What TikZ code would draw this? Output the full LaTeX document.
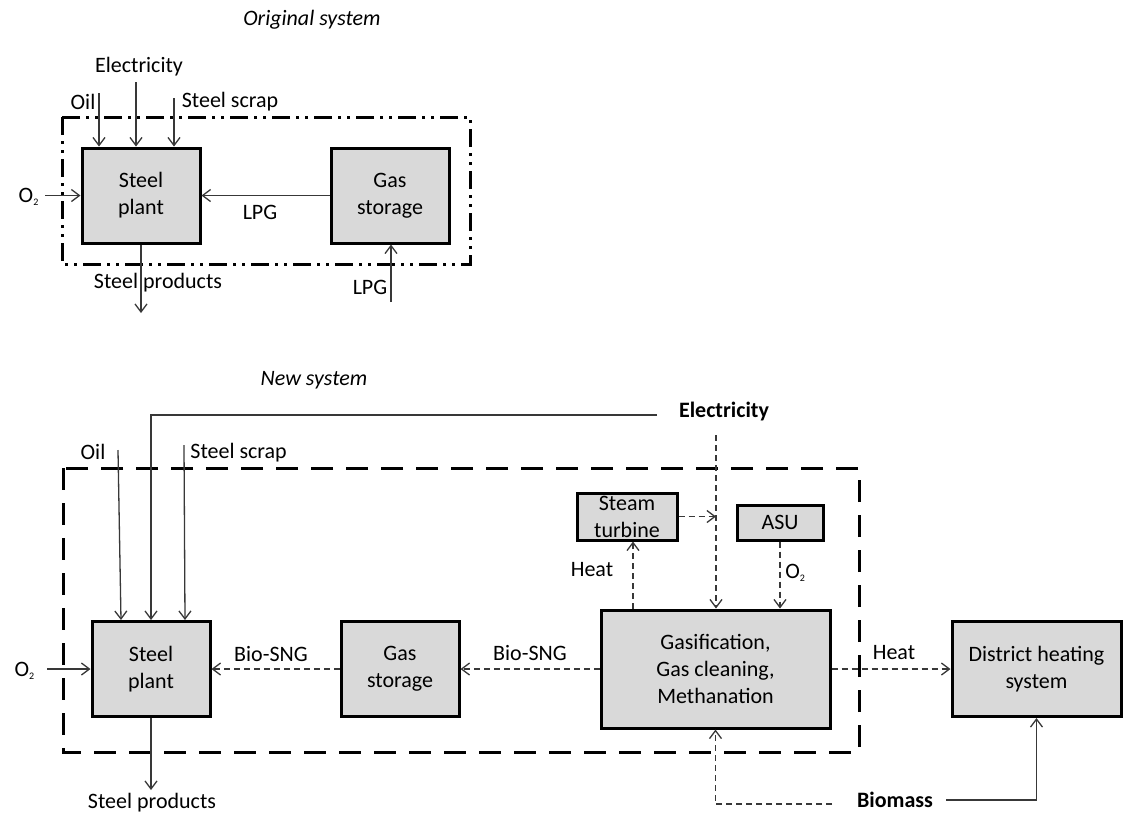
\documentclass[tikz,border=0pt]{standalone}
\usepackage{fontspec}
\setmainfont{Carlito}
\usepackage{xcolor}
\definecolor{box_gray}{HTML}{D9D9D9}
\definecolor{line_gray}{HTML}{383838}
\usetikzlibrary{positioning}
\usetikzlibrary{arrows.meta}
\tikzstyle{unit} = [rectangle, draw=black, fill=box_gray, line width=1.5pt, align=center, minimum width=59pt, minimum height=47.5pt, inner sep=1pt]
\tikzstyle{small_unit} = [unit, minimum width=50pt, minimum height=23.5pt, inner ysep=0pt]
\tikzstyle{flow_arr} = [line width=0.65pt, ->, line_gray]
\tikzstyle{dash_arr} = [flow_arr, dash pattern=on 3pt off 2pt]
\tikzstyle{old_sys} = [line width=1.5pt, dash pattern=on 9pt off 3pt on 1.5pt off 3pt on 1.5pt off 3pt]
\tikzstyle{new_sys} = [line width=1.5pt, dash pattern=on 11pt off 6.5pt]
\tikzstyle{lbl} = [inner sep=1pt]

\begin{document}
\begin{tikzpicture}[x=0.5pt,y=-0.5pt,font=\fontsize{11}{13.5}\selectfont,>={Straight Barb[length=4pt,width=6pt]}]
    \useasboundingbox (0,0) rectangle (1126,816);
    % original system
    \node (t1) at (312,20) {\itshape Original system};
    \draw[old_sys] (62,117) rectangle (470,264);
    \node (sp1)[unit] at (141,195.5) {Steel\\plant};
    \node (gs1)[unit,right=64pt of sp1] {Gas\\storage};
    \node (oil1)[lbl] at (83,102) {Oil};
    \node (el1)[lbl] at (139,67) {Electricity};
    \node (scr1)[lbl] at (230,102) {Steel scrap};
    \node (o21)[lbl] at (29,197) {O\textsubscript{\tiny 2}};
    \node (lpg1)[lbl] at (260,212) {LPG};
    \node (pr1)[lbl] at (158,283) {Steel products};
    \node (lpg2)[lbl] at (370,287) {LPG};
    \coordinate (oil1s) at (99,93);
    \coordinate (el1s) at (136,82);
    \coordinate (scr1s) at (174,98);
    \coordinate (o21s) at (45,195.5);
    \coordinate (pr1e) at (141,313);
    \coordinate (lpg2s) at (391,302);
    \draw[flow_arr] (oil1s) -- (oil1s |- sp1.north);
    \draw[flow_arr] (el1s) -- (el1s |- sp1.north);
    \draw[flow_arr] (scr1s) -- (scr1s |- sp1.north);
    \draw[flow_arr] (o21s) -- (sp1.west);
    \draw[flow_arr] (gs1.west) -- (sp1.east);
    \draw[flow_arr] (sp1.south) -- (pr1e);
    \draw[flow_arr] (lpg2s) -- (lpg2s |- gs1.south);
    % new system
    \node (t2) at (314,380) {\itshape New system};
    \draw[new_sys] (63,468) rectangle (859,752);
    \node (sp2)[unit] at (151,669) {Steel\\plant};
    \node (gs2)[unit,right=64pt of sp2] {Gas\\storage};
    \node (gas)[unit,right=69.5pt of gs2,minimum width=114.5pt,minimum height=59pt] {Gasification,\\Gas cleaning,\\Methanation};
    \node (dh)[unit,right=59.5pt of gas,minimum width=84.5pt] {District heating\\system};
    \node (st)[small_unit] at (627,516.5) {Steam\\turbine};
    \node (asu)[small_unit,minimum width=43pt,minimum height=17.5pt] at (780,522.5) {ASU};
    \node (oil2)[lbl] at (93,452) {Oil};
    \node (scr2)[lbl,anchor=west] at (188,453) {Steel scrap};
    \node (el2)[lbl] at (724,412) {\bfseries Electricity};
    \node (o22)[lbl] at (25,671) {O\textsubscript{\tiny 2}};
    \node (sng1)[lbl] at (271,654) {Bio-SNG};
    \node (sng2)[lbl] at (530,653) {Bio-SNG};
    \node (ht1)[lbl] at (592,570) {Heat};
    \node (o23)[lbl,anchor=west] at (783,573) {O\textsubscript{\tiny 2}};
    \node (ht2)[lbl] at (894,653) {Heat};
    \node (bio)[lbl] at (895,800) {\bfseries Biomass};
    \node (pr2)[lbl] at (152,803) {Steel products};
    \coordinate (oil2s) at (118,450);
    \coordinate (scr2s) at (184,445);
    \coordinate (el2s) at (657,415);
    \coordinate (el2t) at (716,435);
    \coordinate (o22s) at (47,669);
    \coordinate (pr2e) at (151,790);
    \coordinate (ht1s) at ([xshift=3pt]st.south);
    \coordinate (bio_w) at (832,804);
    \coordinate (bio_e) at (946,800);
    \draw[flow_arr] (oil2s) -- ([xshift=-15pt]sp2.north);
    \draw[flow_arr] (scr2s) -- ([xshift=17pt]sp2.north);
    \draw[flow_arr] (el2s) -| (sp2.north);
    \draw[flow_arr] (o22s) -- (sp2.west);
    \draw[flow_arr] (sp2.south) -- (pr2e);
    \draw[dash_arr] (gs2.west) -- (sp2.east);
    \draw[dash_arr] (gas.west) -- (gs2.east);
    \draw[dash_arr] (gas.east) -- (dh.west);
    \draw[dash_arr] (el2t) -- (el2t |- gas.north);
    \draw[dash_arr] (st.east) -- (st.east -| el2t);
    \draw[dash_arr] (ht1s |- gas.north) -- (ht1s);
    \draw[dash_arr] (asu.south) -- (asu.south |- gas.north);
    \draw[dash_arr] (bio_w) -| (gas.south);
    \draw[flow_arr] (bio_e) -| (dh.south);
\end{tikzpicture}
\end{document}
